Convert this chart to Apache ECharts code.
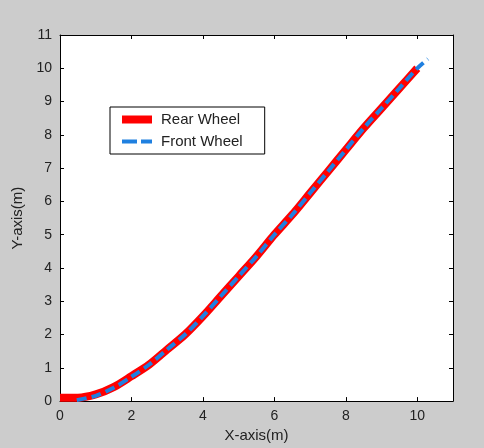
<!DOCTYPE html>
<html lang="en">
	<head>
		<meta charset="UTF-8" />
		<title>Rear and front wheel path</title>
		<script src="https://cdn.jsdelivr.net/npm/echarts@6/dist/echarts.min.js"></script>
		<style>
			html, body { margin: 0; padding: 0; background: #cccccc; }
			#chart { width: 484px; height: 448px; }
		</style>
	</head>
	<body>
		<div id="chart"></div>
		<script>
			// values (metres)
			const rearX = [0, 0.5, 1, 1.5, 2, 2.5, 3, 3.5, 4, 4.5, 5, 5.5, 6, 6.5, 7, 7.5, 8, 8.5, 9, 9.5, 10]
			const rearY = [0.1, 0.1, 0.2, 0.42, 0.75, 1.1, 1.55, 2.0, 2.55, 3.15, 3.75, 4.35, 5.0, 5.6, 6.25, 6.9, 7.55, 8.2, 8.8, 9.4, 10.0]
			const frontX = [0.47, 1, 1.5, 2, 2.5, 3, 3.5, 4, 4.5, 5, 5.5, 6, 6.5, 7, 7.5, 8, 8.5, 9, 9.5, 10, 10.3]
			const frontY = [0.03, 0.16, 0.4, 0.73, 1.1, 1.55, 2.0, 2.55, 3.15, 3.75, 4.35, 5.0, 5.6, 6.25, 6.9, 7.55, 8.2, 8.8, 9.4, 10.0, 10.28]
			const seriesNames = ['Rear Wheel', 'Front Wheel']
			const xTicks = [0, 2, 4, 6, 8, 10]
			const yTicks = [0, 1, 2, 3, 4, 5, 6, 7, 8, 9, 10, 11]

			const red = '#ff0000'
			const blue = '#1f80e0'
			const font = 'Liberation Sans, Arial, sans-serif'
			const txt = '#222'

			function pairs(xs, ys) {
				return xs.map((x, i) => [x, ys[i]])
			}

			const chart = echarts.init(document.getElementById('chart'), null, { renderer: 'canvas' })

			const axisBase = {
				type: 'value',
				min: 0,
				max: 11,
				axisLine: { show: true, onZero: false, lineStyle: { color: '#000', width: 1 } },
				axisTick: { show: true, inside: true, length: 4, lineStyle: { color: '#000' } },
				splitLine: { show: false }
			}

			const option = {
				backgroundColor: '#cccccc',
				animation: false,
				grid: { left: 60, right: 31, top: 35, bottom: 41, show: true, backgroundColor: '#ffffff', borderWidth: 0 },
				legend: {
					left: 110,
					top: 107,
					orient: 'vertical',
					backgroundColor: '#ffffff',
					borderColor: '#000',
					borderWidth: 1,
					borderRadius: 0,
					padding: [5, 22, 5, 8],
					itemWidth: 30,
					itemHeight: 14,
					itemGap: 7,
					textStyle: { fontFamily: font, fontSize: 15, color: txt, padding: [0, 0, 0, 4] },
					data: [
						{ name: seriesNames[0], itemStyle: { opacity: 0 }, lineStyle: { color: red, width: 8, type: 'solid', cap: 'butt' } },
						{ name: seriesNames[1], itemStyle: { opacity: 0 }, lineStyle: { color: blue, width: 4, type: [15, 4], cap: 'butt' } }
					]
				},
				xAxis: [
					Object.assign({}, axisBase, {
						position: 'bottom',
						interval: 2,
						name: 'X-axis(m)',
						nameLocation: 'middle',
						nameGap: 23,
						nameTextStyle: { fontFamily: font, fontSize: 15, color: txt },
						axisLabel: {
							fontFamily: font,
							fontSize: 14,
							color: txt,
							margin: 8,
							formatter: v => (xTicks.indexOf(v) >= 0 ? String(v) : '')
						}
					}),
					Object.assign({}, axisBase, { position: 'top', interval: 2, axisLabel: { show: false } })
				],
				yAxis: [
					Object.assign({}, axisBase, {
						position: 'left',
						interval: 1,
						name: 'Y-axis(m)',
						nameLocation: 'middle',
						nameGap: 34,
						nameTextStyle: { fontFamily: font, fontSize: 15, color: txt },
						axisLabel: {
							fontFamily: font,
							fontSize: 14,
							color: txt,
							margin: 8,
							formatter: v => (yTicks.indexOf(v) >= 0 ? String(v) : '')
						}
					}),
					Object.assign({}, axisBase, { position: 'right', interval: 1, axisLabel: { show: false } })
				],
				series: [
					{
						name: seriesNames[0],
						type: 'line',
						data: pairs(rearX, rearY),
						smooth: 0.3,
						symbol: 'none',
						clip: true,
						color: red,
						lineStyle: { color: red, width: 8 },
						z: 2
					},
					{
						name: seriesNames[1],
						type: 'line',
						data: pairs(frontX, frontY),
						smooth: 0.3,
						symbol: 'none',
						clip: true,
						color: blue,
						lineStyle: { color: blue, width: 4, type: [10, 5] },
						z: 3
					}
				]
			}
			chart.setOption(option)
		</script>
	</body>
</html>
